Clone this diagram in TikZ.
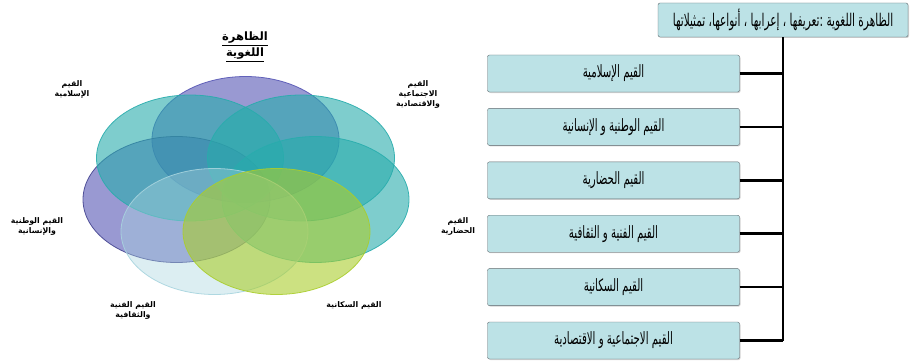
\documentclass[tikz,border=0pt]{standalone}
\usepackage{fontspec}
\newfontfamily\arabicfont[Script=Arabic]{DejaVu Sans}
\newfontfamily\boxfont[Script=Arabic, FakeStretch=0.6]{DejaVu Sans}
\TeXXeTstate=1
\usetikzlibrary{positioning, shadows}

\definecolor{VennPurple}{RGB}{85, 85, 180}
\definecolor{VennTeal}{RGB}{40, 172, 172}
\definecolor{VennGreen}{RGB}{170, 205, 45}
\definecolor{VennPale}{RGB}{167, 212, 222}
\definecolor{BoxFill}{RGB}{188, 226, 230}
\definecolor{BoxEdge}{RGB}{95, 105, 110}

\newcommand{\rl}[1]{\beginR #1\endR}

\begin{document}
\begin{tikzpicture}[
            x=1pt, y=-1pt,
            node distance=16pt,
            venn/.style={fill opacity=0.6, draw opacity=0.9, line width=0.8pt},
            vlabel/.style={align=center, inner sep=1pt,
                           font=\arabicfont\bfseries\fontsize{7.8}{10}\selectfont},
            valuebox/.style={rectangle, rounded corners=2pt, draw=BoxEdge, fill=BoxFill,
                             minimum width=252pt, minimum height=37pt, align=center,
                             font=\boxfont\fontsize{17}{18}\selectfont,
                             drop shadow={shadow xshift=1pt, shadow yshift=-1pt, opacity=0.35}},
            topbox/.style={valuebox, minimum width=250pt, minimum height=34pt,
                           font=\boxfont\fontsize{17.5}{18}\selectfont},
            link/.style={line width=2.6pt, black}
        ]
            \useasboundingbox (0,0) rectangle (910,361);

            % overlapping values
            \draw[venn, draw=VennPurple, fill=VennPurple] (245.5,139.5) ellipse [x radius=93.5pt, y radius=63pt];
            \draw[venn, draw=VennPurple!80!black, fill=VennPurple] (176.5,199.5) ellipse [x radius=93.5pt, y radius=63pt];
            \draw[venn, draw=VennTeal, fill=VennTeal] (190,158) ellipse [x radius=93.5pt, y radius=63pt];
            \draw[venn, draw=VennTeal, fill=VennTeal] (301,158) ellipse [x radius=93.5pt, y radius=63pt];
            \draw[venn, draw=VennTeal, fill=VennTeal] (315.5,199.5) ellipse [x radius=93.5pt, y radius=63pt];
            \draw[venn, draw=VennPale, fill=VennPale, fill opacity=0.4] (214.5,231.5) ellipse [x radius=93.5pt, y radius=63pt];
            \draw[venn, draw=VennGreen, fill=VennGreen] (276.5,231.5) ellipse [x radius=93.5pt, y radius=63pt];

            \node[align=center, font=\arabicfont\bfseries\fontsize{11.5}{16}\selectfont] (title) at (245,47)
                {\underline{\rl{الظاهرة}}\\\underline{\rl{اللغوية}}};
            \node[vlabel] (islamicL) at (72,89) {\rl{القيم}\\\rl{الإسلامية}};
            \node[vlabel] (economicL) at (418,94) {\rl{القيم}\\\rl{الاجتماعية}\\\rl{والاقتصادية}};
            \node[vlabel] (nationalL) at (37,226) {\rl{القيم الوطنية}\\\rl{والإنسانية}};
            \node[vlabel] (civilL) at (458,226) {\rl{القيم}\\\rl{الحضارية}};
            \node[vlabel] (artL) at (133,310) {\rl{القيم الفنية}\\\rl{والثقافية}};
            \node[vlabel] (popL) at (354,305) {\rl{القيم السكانية}};

            % tree of values
            \node[topbox] (phen) at (783,20)
                {\rl{الظاهرة اللغوية :تعريفها ، إعرابها ، أنواعها، تمثيلاتها}};
            \node[valuebox] (islamic) at (613.5,73.5) {\rl{القيم الإسلامية}};
            \node[valuebox, below=of islamic] (national) {\rl{القيم الوطنية و الإنسانية}};
            \node[valuebox, below=of national] (civil) {\rl{القيم الحضارية}};
            \node[valuebox, below=of civil] (art) {\rl{القيم الفنية و الثقافية}};
            \node[valuebox, below=of art] (pop) {\rl{القيم السكانية}};
            \node[valuebox, below=of pop] (economic) {\rl{القيم الاجتماعية و الاقتصادية}};

            \draw[link] (phen.south) -- (phen.south |- economic);
            \foreach \v in {islamic, national, civil, art, pop, economic}
                \draw[link] (\v.east) -- (\v.east -| phen.south);
        \end{tikzpicture}
\end{document}
